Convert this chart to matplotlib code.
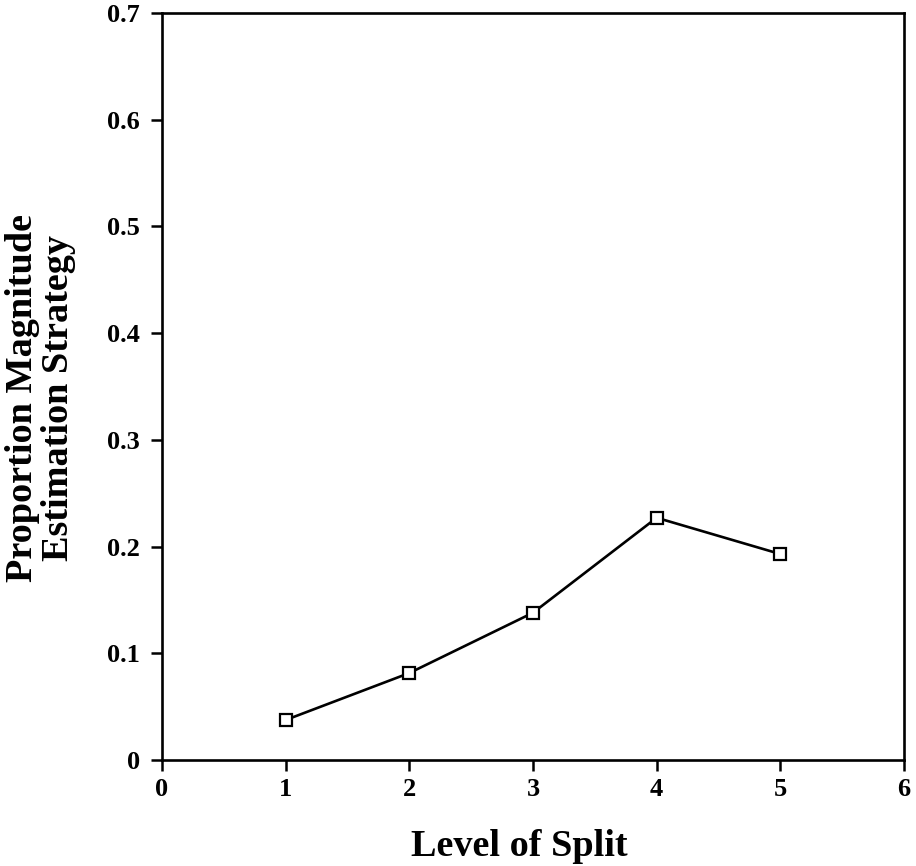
import matplotlib
matplotlib.use("Agg")
import matplotlib.pyplot as plt

levels = [1, 2, 3, 4, 5]
proportion = [0.0375, 0.0815, 0.138, 0.227, 0.193]
xticks = [0, 1, 2, 3, 4, 5, 6]
yticks = [0, 0.1, 0.2, 0.3, 0.4, 0.5, 0.6, 0.7]
ytick_labels = ["0", "0.1", "0.2", "0.3", "0.4", "0.5", "0.6", "0.7"]

plt.rcParams['font.family'] = ['Liberation Serif', 'DejaVu Serif']
plt.rcParams['font.weight'] = 'bold'

fig = plt.figure(figsize=(9.16, 8.66), dpi=100)
ax = fig.add_axes([162/916, 1 - 760/866, (904-162)/916, (760-13)/866])

ax.plot(levels, proportion, color='black', lw=1.9, marker='s', markersize=8.5,
        markerfacecolor='white', markeredgecolor='black', markeredgewidth=1.6)

ax.set_xlim(0, 6)
ax.set_ylim(0, 0.7)
ax.set_xticks(xticks)
ax.set_xticklabels([str(v) for v in xticks], fontsize=19, fontweight='bold')
ax.set_yticks(yticks)
ax.set_yticklabels(ytick_labels, fontsize=19, fontweight='bold')
ax.tick_params(direction='out', length=8, width=1.8)
ax.tick_params(axis='x', pad=5)
ax.tick_params(axis='y', pad=8)
for s in ax.spines.values():
    s.set_linewidth(1.9)

ax.set_xlabel("Level of Split", fontsize=27.5, fontweight='bold')
ax.set_ylabel("Proportion Magnitude\nEstimation Strategy", fontsize=27.5,
              fontweight='bold', linespacing=1.05)
ax.xaxis.set_label_coords(0.482, -0.093)
ax.yaxis.set_label_coords(-0.1156, 0.4846)

fig.savefig("out.png", dpi=100)
